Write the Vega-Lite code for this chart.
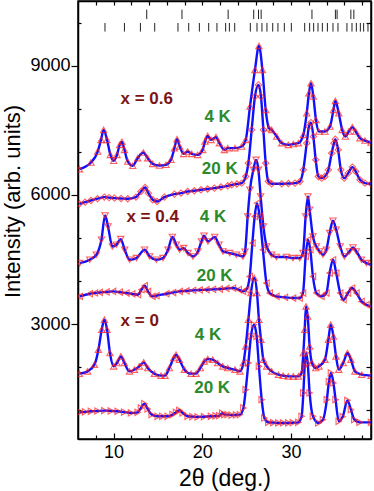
{
  "$schema": "https://vega.github.io/schema/vega-lite/v6.json",
  "width": 293,
  "height": 438,
  "autosize": {"type": "none"},
  "padding": {"left": 78, "top": 1, "right": 3, "bottom": 52},
  "background": "white",
  "view": {"stroke": "black", "strokeWidth": 1.5},
  "config": {
    "axis": {
      "labelFont": "Liberation Sans", "titleFont": "Liberation Sans",
      "labelFontSize": 18, "titleFontSize": 22, "titleFontWeight": "normal",
      "labelColor": "black", "titleColor": "black", "tickColor": "black",
      "domainColor": "black", "domainWidth": 1.5, "tickWidth": 1.2, "grid": false
    },
    "text": {"font": "Liberation Sans"}
  },
  "datasets": {
    "bragg1": [{"x":13.74},{"x":17.71},{"x":22.91},{"x":25.79},{"x":26.33},{"x":26.63},{"x":32.35},{"x":34.99},{"x":35.18},{"x":36.73},{"x":37.07}],
    "bragg2": [{"x":9.04},{"x":11.23},{"x":13.03},{"x":14.64},{"x":17.26},{"x":18.47},{"x":19.67},{"x":20.72},{"x":21.65},{"x":22.63},{"x":23.05},{"x":23.65},{"x":25.41},{"x":26.16},{"x":26.72},{"x":27.28},{"x":27.93},{"x":28.52},{"x":29.24},{"x":30.03},{"x":31.53},{"x":32.09},{"x":32.54},{"x":33.03},{"x":33.52},{"x":34.09},{"x":34.72},{"x":35.28},{"x":36.29},{"x":36.86},{"x":37.35},{"x":37.8},{"x":38.17},{"x":38.66}],
    "labels": [
      {"x":13.74,"y":8227,"t":"x = 0.6","g":"comp"},
      {"x":21.73,"y":7810,"t":"4 K","g":"temp"},
      {"x":21.96,"y":6603,"t":"20 K","g":"temp"},
      {"x":14.41,"y":5478,"t":"x = 0.4","g":"comp"},
      {"x":21.2,"y":5478,"t":"4 K","g":"temp"},
      {"x":21.39,"y":4121,"t":"20 K","g":"temp"},
      {"x":12.95,"y":3077,"t":"x = 0","g":"comp"},
      {"x":20.64,"y":2752,"t":"4 K","g":"temp"},
      {"x":21.11,"y":1515,"t":"20 K","g":"temp"}
    ],
    "curves": [
      {"c":"a","x":6.16,"y":6596},{"c":"a","x":7.46,"y":6749},{"c":"a","x":8.22,"y":7005},{"c":"a","x":8.59,"y":7276},{"c":"a","x":8.89,"y":7508},{"c":"a","x":9.27,"y":7276},{"c":"a","x":9.65,"y":6928},{"c":"a","x":10.02,"y":6789},{"c":"a","x":10.39,"y":6928},{"c":"a","x":10.7,"y":7160},{"c":"a","x":10.95,"y":7230},{"c":"a","x":11.23,"y":7044},{"c":"a","x":11.6,"y":6773},{"c":"a","x":12.16,"y":6673},{"c":"a","x":12.72,"y":6851},{"c":"a","x":13.36,"y":6981},{"c":"a","x":13.85,"y":6851},{"c":"a","x":14.41,"y":6719},{"c":"a","x":15.17,"y":6680},{"c":"a","x":15.91,"y":6696},{"c":"a","x":16.47,"y":6812},{"c":"a","x":16.86,"y":7083},{"c":"a","x":17.15,"y":7292},{"c":"a","x":17.45,"y":7121},{"c":"a","x":17.9,"y":6951},{"c":"a","x":18.35,"y":7005},{"c":"a","x":18.8,"y":6951},{"c":"a","x":19.48,"y":6928},{"c":"a","x":20.04,"y":7044},{"c":"a","x":20.3,"y":7237},{"c":"a","x":20.61,"y":7369},{"c":"a","x":20.98,"y":7276},{"c":"a","x":21.54,"y":7339},{"c":"a","x":21.92,"y":7199},{"c":"a","x":22.49,"y":7044},{"c":"a","x":22.86,"y":7083},{"c":"a","x":23.68,"y":7083},{"c":"a","x":24.43,"y":7121},{"c":"a","x":24.89,"y":7276},{"c":"a","x":25.37,"y":8049},{"c":"a","x":25.93,"y":8900},{"c":"a","x":26.38,"y":9457},{"c":"a","x":26.77,"y":8900},{"c":"a","x":27.14,"y":7972},{"c":"a","x":27.51,"y":7547},{"c":"a","x":27.81,"y":7508},{"c":"a","x":28.38,"y":7353},{"c":"a","x":28.94,"y":7199},{"c":"a","x":29.69,"y":7160},{"c":"a","x":30.25,"y":7180},{"c":"a","x":30.82,"y":7199},{"c":"a","x":31.38,"y":7392},{"c":"a","x":31.76,"y":7895},{"c":"a","x":32.01,"y":8359},{"c":"a","x":32.24,"y":8591},{"c":"a","x":32.51,"y":8281},{"c":"a","x":32.8,"y":7740},{"c":"a","x":33.14,"y":7469},{"c":"a","x":33.81,"y":7469},{"c":"a","x":34.38,"y":7585},{"c":"a","x":34.77,"y":7972},{"c":"a","x":34.98,"y":8181},{"c":"a","x":35.37,"y":7895},{"c":"a","x":35.75,"y":7508},{"c":"a","x":36.12,"y":7353},{"c":"a","x":36.5,"y":7469},{"c":"a","x":36.9,"y":7571},{"c":"a","x":37.28,"y":7469},{"c":"a","x":37.76,"y":7315},{"c":"a","x":38.32,"y":7260},{"c":"a","x":39.0,"y":7213},
      {"c":"b","x":6.16,"y":5791},{"c":"b","x":6.8,"y":5830},{"c":"b","x":7.46,"y":5868},{"c":"b","x":8.2,"y":5910},{"c":"b","x":8.97,"y":5947},{"c":"b","x":9.5,"y":5935},{"c":"b","x":10.1,"y":5923},{"c":"b","x":10.85,"y":5915},{"c":"b","x":11.6,"y":5907},{"c":"b","x":12.53,"y":5947},{"c":"b","x":13.09,"y":6077},{"c":"b","x":13.55,"y":6169},{"c":"b","x":13.93,"y":6039},{"c":"b","x":14.41,"y":5884},{"c":"b","x":14.9,"y":5845},{"c":"b","x":15.73,"y":5947},{"c":"b","x":16.86,"y":6016},{"c":"b","x":17.6,"y":6040},{"c":"b","x":18.35,"y":6077},{"c":"b","x":19.1,"y":6095},{"c":"b","x":19.85,"y":6116},{"c":"b","x":20.6,"y":6135},{"c":"b","x":21.36,"y":6155},{"c":"b","x":22.1,"y":6180},{"c":"b","x":22.86,"y":6209},{"c":"b","x":23.31,"y":6232},{"c":"b","x":23.9,"y":6250},{"c":"b","x":24.43,"y":6271},{"c":"b","x":24.89,"y":6425},{"c":"b","x":25.19,"y":6735},{"c":"b","x":25.56,"y":7508},{"c":"b","x":25.93,"y":8281},{"c":"b","x":26.32,"y":8552},{"c":"b","x":26.61,"y":8281},{"c":"b","x":26.88,"y":7508},{"c":"b","x":27.14,"y":6735},{"c":"b","x":27.44,"y":6309},{"c":"b","x":27.81,"y":6255},{"c":"b","x":28.94,"y":6255},{"c":"b","x":29.7,"y":6262},{"c":"b","x":30.44,"y":6271},{"c":"b","x":31.0,"y":6309},{"c":"b","x":31.38,"y":6580},{"c":"b","x":31.76,"y":7199},{"c":"b","x":32.01,"y":7585},{"c":"b","x":32.24,"y":7677},{"c":"b","x":32.51,"y":7353},{"c":"b","x":32.77,"y":6812},{"c":"b","x":33.07,"y":6425},{"c":"b","x":33.44,"y":6387},{"c":"b","x":33.81,"y":6425},{"c":"b","x":34.2,"y":6580},{"c":"b","x":34.57,"y":6967},{"c":"b","x":34.83,"y":7199},{"c":"b","x":34.98,"y":7292},{"c":"b","x":35.3,"y":7044},{"c":"b","x":35.6,"y":6580},{"c":"b","x":35.98,"y":6387},{"c":"b","x":36.43,"y":6503},{"c":"b","x":36.9,"y":6643},{"c":"b","x":37.28,"y":6541},{"c":"b","x":37.76,"y":6348},{"c":"b","x":38.32,"y":6271},{"c":"b","x":39.0,"y":6255},
      {"c":"c","x":6.19,"y":4415},{"c":"c","x":7.32,"y":4492},{"c":"c","x":8.07,"y":4608},{"c":"c","x":8.64,"y":4956},{"c":"c","x":9.05,"y":5520},{"c":"c","x":9.38,"y":5265},{"c":"c","x":9.87,"y":4801},{"c":"c","x":10.32,"y":4840},{"c":"c","x":10.81,"y":4972},{"c":"c","x":11.26,"y":4724},{"c":"c","x":11.82,"y":4492},{"c":"c","x":12.58,"y":4531},{"c":"c","x":13.51,"y":4724},{"c":"c","x":14.07,"y":4569},{"c":"c","x":14.83,"y":4492},{"c":"c","x":15.57,"y":4531},{"c":"c","x":16.14,"y":4724},{"c":"c","x":16.63,"y":5019},{"c":"c","x":17.08,"y":4840},{"c":"c","x":17.45,"y":4724},{"c":"c","x":17.9,"y":4763},{"c":"c","x":18.39,"y":4647},{"c":"c","x":18.95,"y":4569},{"c":"c","x":19.51,"y":4685},{"c":"c","x":19.9,"y":4917},{"c":"c","x":20.19,"y":5049},{"c":"c","x":20.64,"y":4917},{"c":"c","x":21.39,"y":5019},{"c":"c","x":21.88,"y":4840},{"c":"c","x":22.33,"y":4685},{"c":"c","x":23.08,"y":4647},{"c":"c","x":23.84,"y":4608},{"c":"c","x":24.58,"y":4569},{"c":"c","x":24.81,"y":4678},{"c":"c","x":25.11,"y":5497},{"c":"c","x":25.37,"y":6116},{"c":"c","x":25.75,"y":6580},{"c":"c","x":26.05,"y":6812},{"c":"c","x":26.32,"y":6580},{"c":"c","x":26.57,"y":5961},{"c":"c","x":26.88,"y":5265},{"c":"c","x":27.25,"y":4801},{"c":"c","x":27.81,"y":4608},{"c":"c","x":28.34,"y":4555},{"c":"c","x":29.47,"y":4555},{"c":"c","x":30.21,"y":4531},{"c":"c","x":30.97,"y":4531},{"c":"c","x":31.34,"y":4647},{"c":"c","x":31.64,"y":5497},{"c":"c","x":31.9,"y":5961},{"c":"c","x":32.09,"y":5652},{"c":"c","x":32.46,"y":5033},{"c":"c","x":32.85,"y":4801},{"c":"c","x":33.22,"y":4685},{"c":"c","x":33.59,"y":4608},{"c":"c","x":33.97,"y":4724},{"c":"c","x":34.34,"y":5111},{"c":"c","x":34.72,"y":5397},{"c":"c","x":35.08,"y":5188},{"c":"c","x":35.53,"y":4801},{"c":"c","x":36.01,"y":4569},{"c":"c","x":36.57,"y":4685},{"c":"c","x":36.97,"y":4777},{"c":"c","x":37.36,"y":4685},{"c":"c","x":37.93,"y":4492},{"c":"c","x":38.48,"y":4415},{"c":"c","x":39.0,"y":4376},
      {"c":"d","x":6.19,"y":3641},{"c":"d","x":7.32,"y":3703},{"c":"d","x":7.9,"y":3720},{"c":"d","x":8.44,"y":3733},{"c":"d","x":9.2,"y":3745},{"c":"d","x":9.94,"y":3757},{"c":"d","x":10.7,"y":3740},{"c":"d","x":11.45,"y":3719},{"c":"d","x":12.1,"y":3700},{"c":"d","x":12.76,"y":3680},{"c":"d","x":13.14,"y":3796},{"c":"d","x":13.51,"y":3889},{"c":"d","x":13.88,"y":3757},{"c":"d","x":14.38,"y":3641},{"c":"d","x":14.83,"y":3657},{"c":"d","x":15.95,"y":3703},{"c":"d","x":16.7,"y":3730},{"c":"d","x":17.45,"y":3757},{"c":"d","x":18.2,"y":3770},{"c":"d","x":18.95,"y":3780},{"c":"d","x":19.7,"y":3790},{"c":"d","x":20.46,"y":3796},{"c":"d","x":21.2,"y":3805},{"c":"d","x":21.96,"y":3812},{"c":"d","x":22.7,"y":3825},{"c":"d","x":23.45,"y":3835},{"c":"d","x":24.1,"y":3800},{"c":"d","x":24.58,"y":3757},{"c":"d","x":24.96,"y":3796},{"c":"d","x":25.34,"y":4105},{"c":"d","x":25.64,"y":4879},{"c":"d","x":25.9,"y":5497},{"c":"d","x":26.16,"y":5807},{"c":"d","x":26.46,"y":5497},{"c":"d","x":26.83,"y":4724},{"c":"d","x":27.22,"y":3951},{"c":"d","x":27.59,"y":3719},{"c":"d","x":28.34,"y":3641},{"c":"d","x":29.3,"y":3620},{"c":"d","x":30.21,"y":3603},{"c":"d","x":30.97,"y":3603},{"c":"d","x":31.34,"y":3719},{"c":"d","x":31.64,"y":4569},{"c":"d","x":31.9,"y":4956},{"c":"d","x":32.16,"y":4724},{"c":"d","x":32.46,"y":4105},{"c":"d","x":32.85,"y":3719},{"c":"d","x":33.41,"y":3641},{"c":"d","x":33.97,"y":3719},{"c":"d","x":34.34,"y":4183},{"c":"d","x":34.72,"y":4492},{"c":"d","x":35.08,"y":4183},{"c":"d","x":35.53,"y":3719},{"c":"d","x":35.9,"y":3564},{"c":"d","x":36.41,"y":3719},{"c":"d","x":36.86,"y":3835},{"c":"d","x":37.36,"y":3719},{"c":"d","x":37.93,"y":3525},{"c":"d","x":38.48,"y":3448},{"c":"d","x":39.0,"y":3409},
      {"c":"e","x":6.16,"y":1847},{"c":"e","x":7.09,"y":1901},{"c":"e","x":7.85,"y":2056},{"c":"e","x":8.3,"y":2404},{"c":"e","x":8.67,"y":2868},{"c":"e","x":8.97,"y":3100},{"c":"e","x":9.27,"y":2868},{"c":"e","x":9.6,"y":2327},{"c":"e","x":10.02,"y":2017},{"c":"e","x":10.39,"y":2095},{"c":"e","x":10.84,"y":2249},{"c":"e","x":11.23,"y":2095},{"c":"e","x":11.79,"y":1901},{"c":"e","x":12.35,"y":1940},{"c":"e","x":12.91,"y":2017},{"c":"e","x":13.4,"y":2109},{"c":"e","x":13.85,"y":1979},{"c":"e","x":14.6,"y":1847},{"c":"e","x":15.35,"y":1801},{"c":"e","x":15.8,"y":1801},{"c":"e","x":16.29,"y":1979},{"c":"e","x":16.78,"y":2211},{"c":"e","x":17.04,"y":2288},{"c":"e","x":17.42,"y":2172},{"c":"e","x":17.98,"y":1940},{"c":"e","x":18.73,"y":1847},{"c":"e","x":19.29,"y":1847},{"c":"e","x":19.78,"y":1979},{"c":"e","x":20.23,"y":2133},{"c":"e","x":20.61,"y":2188},{"c":"e","x":21.17,"y":2172},{"c":"e","x":21.73,"y":2095},{"c":"e","x":22.3,"y":2017},{"c":"e","x":22.86,"y":1979},{"c":"e","x":23.68,"y":1940},{"c":"e","x":24.24,"y":1901},{"c":"e","x":24.63,"y":2095},{"c":"e","x":24.89,"y":2481},{"c":"e","x":25.19,"y":3100},{"c":"e","x":25.48,"y":3719},{"c":"e","x":25.86,"y":4067},{"c":"e","x":26.16,"y":3719},{"c":"e","x":26.38,"y":3100},{"c":"e","x":26.61,"y":2636},{"c":"e","x":26.88,"y":2172},{"c":"e","x":27.25,"y":2017},{"c":"e","x":27.81,"y":1901},{"c":"e","x":28.57,"y":1824},{"c":"e","x":29.1,"y":1800},{"c":"e","x":29.69,"y":1785},{"c":"e","x":30.25,"y":1785},{"c":"e","x":30.82,"y":1785},{"c":"e","x":31.19,"y":1863},{"c":"e","x":31.38,"y":2327},{"c":"e","x":31.53,"y":2868},{"c":"e","x":31.68,"y":3409},{"c":"e","x":31.87,"y":3177},{"c":"e","x":32.09,"y":2481},{"c":"e","x":32.35,"y":2095},{"c":"e","x":32.77,"y":1979},{"c":"e","x":33.14,"y":2017},{"c":"e","x":33.81,"y":2172},{"c":"e","x":34.2,"y":2636},{"c":"e","x":34.46,"y":2984},{"c":"e","x":34.77,"y":2713},{"c":"e","x":35.06,"y":2249},{"c":"e","x":35.37,"y":1940},{"c":"e","x":35.87,"y":2095},{"c":"e","x":36.35,"y":2327},{"c":"e","x":36.74,"y":2172},{"c":"e","x":37.19,"y":1901},{"c":"e","x":37.95,"y":1824},{"c":"e","x":39.0,"y":1801},
      {"c":"f","x":6.16,"y":949},{"c":"f","x":6.8,"y":960},{"c":"f","x":7.46,"y":973},{"c":"f","x":8.2,"y":980},{"c":"f","x":8.97,"y":989},{"c":"f","x":9.7,"y":982},{"c":"f","x":10.47,"y":973},{"c":"f","x":11.2,"y":955},{"c":"f","x":11.97,"y":935},{"c":"f","x":12.72,"y":949},{"c":"f","x":13.09,"y":1051},{"c":"f","x":13.48,"y":1151},{"c":"f","x":13.85,"y":1028},{"c":"f","x":14.3,"y":896},{"c":"f","x":14.98,"y":857},{"c":"f","x":15.5,"y":857},{"c":"f","x":16.1,"y":857},{"c":"f","x":16.66,"y":896},{"c":"f","x":17.04,"y":949},{"c":"f","x":17.42,"y":996},{"c":"f","x":17.79,"y":935},{"c":"f","x":18.35,"y":857},{"c":"f","x":18.9,"y":850},{"c":"f","x":19.48,"y":843},{"c":"f","x":20.2,"y":848},{"c":"f","x":20.98,"y":857},{"c":"f","x":21.5,"y":865},{"c":"f","x":21.92,"y":873},{"c":"f","x":22.24,"y":931},{"c":"f","x":22.49,"y":896},{"c":"f","x":22.86,"y":896},{"c":"f","x":23.31,"y":884},{"c":"f","x":23.8,"y":890},{"c":"f","x":24.24,"y":896},{"c":"f","x":24.63,"y":1051},{"c":"f","x":24.89,"y":1476},{"c":"f","x":25.19,"y":2095},{"c":"f","x":25.48,"y":2713},{"c":"f","x":25.82,"y":2984},{"c":"f","x":26.12,"y":2713},{"c":"f","x":26.38,"y":2017},{"c":"f","x":26.69,"y":1244},{"c":"f","x":26.99,"y":819},{"c":"f","x":27.44,"y":717},{"c":"f","x":28.0,"y":710},{"c":"f","x":28.57,"y":703},{"c":"f","x":29.1,"y":703},{"c":"f","x":29.69,"y":703},{"c":"f","x":30.2,"y":708},{"c":"f","x":30.82,"y":717},{"c":"f","x":31.19,"y":857},{"c":"f","x":31.38,"y":1399},{"c":"f","x":31.53,"y":2017},{"c":"f","x":31.68,"y":2327},{"c":"f","x":31.87,"y":2095},{"c":"f","x":32.09,"y":1399},{"c":"f","x":32.46,"y":857},{"c":"f","x":33.07,"y":703},{"c":"f","x":33.59,"y":780},{"c":"f","x":34.03,"y":1244},{"c":"f","x":34.26,"y":1662},{"c":"f","x":34.49,"y":1863},{"c":"f","x":34.77,"y":1631},{"c":"f","x":35.01,"y":1244},{"c":"f","x":35.37,"y":741},{"c":"f","x":35.82,"y":850},{"c":"f","x":36.35,"y":1228},{"c":"f","x":36.74,"y":1012},{"c":"f","x":37.12,"y":780},{"c":"f","x":37.72,"y":717},{"c":"f","x":39.0,"y":717}
    ]
  },
  "resolve": {"axis": {"x": "independent", "y": "independent"}},
  "layer": [
    {
      "data": {"name": "bragg1"},
      "mark": {"type": "rule", "color": "#222222", "strokeWidth": 1},
      "encoding": {
        "x": {"field": "x", "type": "quantitative", "scale": {"domain": [6, 39], "nice": false, "zero": false},
              "axis": {"orient": "bottom", "values": [10, 20, 30], "tickSize": -6, "labelPadding": 10, "title": "2θ (deg.)", "titleFontSize": 23, "titlePadding": 6}},
        "y": {"datum": 10300, "type": "quantitative", "scale": {"domain": [330, 10500], "nice": false, "zero": false},
              "axis": {"orient": "left", "values": [3000, 6000, 9000], "format": "d", "tickSize": 7, "labelPadding": 1, "title": "Intensity (arb. units)", "titlePadding": 5, "titleY": 200}},
        "y2": {"datum": 10080}
      }
    },
    {
      "data": {"name": "bragg2"},
      "mark": {"type": "rule", "color": "#222222", "strokeWidth": 1},
      "encoding": {
        "x": {"field": "x", "type": "quantitative", "scale": {"domain": [6, 39], "nice": false, "zero": false},
              "axis": {"orient": "bottom", "values": [8, 12, 14, 16, 18, 22, 24, 26, 28, 32, 34, 36, 38], "tickSize": -4, "labels": false, "domain": false, "title": null}},
        "y": {"datum": 9990, "type": "quantitative", "scale": {"domain": [330, 10500], "nice": false, "zero": false},
              "axis": {"orient": "left", "values": [1000, 2000, 4000, 5000, 7000, 8000, 10000], "tickSize": -3, "labels": false, "domain": false, "title": null}},
        "y2": {"datum": 9790}
      }
    },
    {
      "data": {"name": "curves"},
      "mark": {"type": "line", "color": "#1010ff", "strokeWidth": 2.4, "interpolate": "monotone", "clip": true},
      "encoding": {
        "x": {"field": "x", "type": "quantitative", "scale": {"domain": [6, 39], "nice": false, "zero": false},
              "axis": {"orient": "top", "values": [8, 10, 12, 14, 16, 18, 20, 22, 24, 26, 28, 30, 32, 34, 36, 38], "tickSize": -4, "labels": false, "title": null}},
        "y": {"field": "y", "type": "quantitative", "scale": {"domain": [330, 10500], "nice": false, "zero": false},
              "axis": {"orient": "right", "values": [1000, 2000, 3000, 4000, 5000, 6000, 7000, 8000, 9000, 10000], "tickSize": -5, "labels": false, "title": null}},
        "detail": {"field": "c"}
      }
    },
    {
      "data": {"name": "curves"},
      "mark": {"type": "point", "filled": false, "color": "#ff1e1e", "strokeWidth": 1.1, "size": 40, "clip": true},
      "encoding": {
        "x": {"field": "x", "type": "quantitative", "scale": {"domain": [6, 39], "nice": false, "zero": false}, "axis": null},
        "y": {"field": "y", "type": "quantitative", "scale": {"domain": [330, 10500], "nice": false, "zero": false}, "axis": null},
        "shape": {"field": "c", "type": "nominal", "legend": null,
                  "scale": {"domain": ["a", "b", "c", "d", "e", "f"], "range": ["triangle-up", "diamond", "triangle-down", "triangle-left", "triangle-up", "triangle-right"]}}
      }
    },
    {
      "data": {"name": "labels"},
      "mark": {"type": "text", "fontWeight": "bold", "fontSize": 17, "align": "center", "baseline": "middle"},
      "encoding": {
        "x": {"field": "x", "type": "quantitative", "scale": {"domain": [6, 39], "nice": false, "zero": false}, "axis": null},
        "y": {"field": "y", "type": "quantitative", "scale": {"domain": [330, 10500], "nice": false, "zero": false}, "axis": null},
        "text": {"field": "t"},
        "color": {"field": "g", "type": "nominal", "legend": null, "scale": {"domain": ["comp", "temp"], "range": ["#7d1414", "#2b8a2b"]}}
      }
    }
  ]
}
